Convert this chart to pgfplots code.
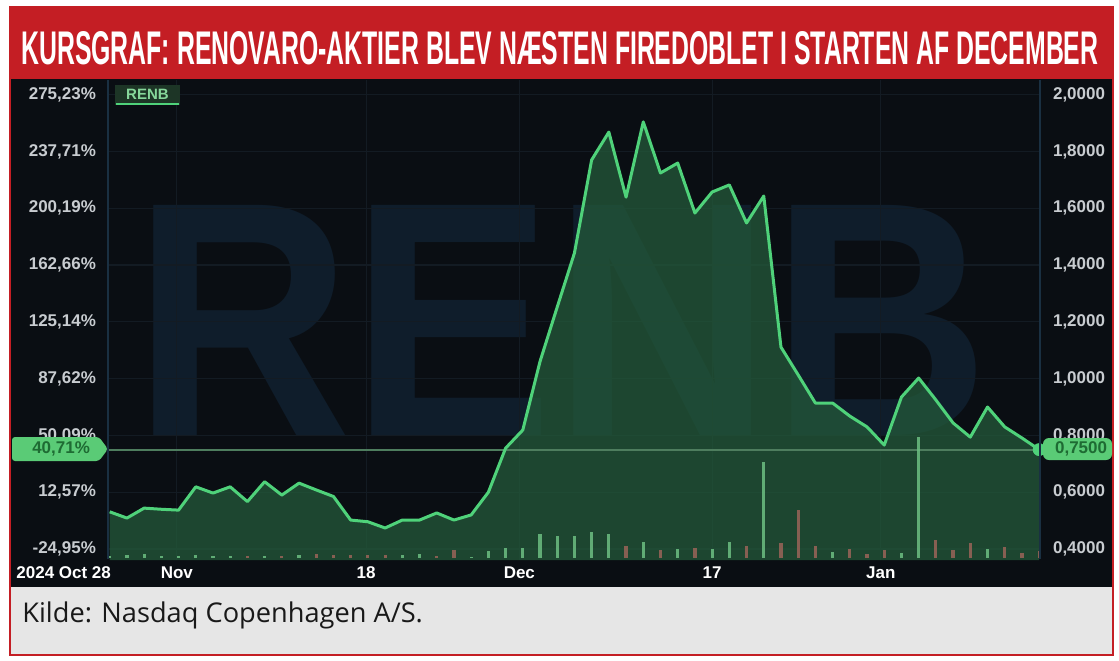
\documentclass[border=0pt]{standalone}
\usepackage{pgfplots}
\pgfplotsset{compat=1.18}
\usepackage{fontspec}
\usepackage{graphicx}
\setmainfont{Liberation Sans}
\newfontfamily\opensans{Open Sans}
\definecolor{bgdark}{HTML}{0A0E13}
\definecolor{titlered}{HTML}{C41E24}
\definecolor{linegreen}{HTML}{4FD27A}
\definecolor{fillgreen}{HTML}{245A3A}
\definecolor{ticktext}{HTML}{C8CCD0}
\definecolor{wm}{HTML}{0F1D2B}
\definecolor{axisblue}{HTML}{1A3042}
\definecolor{gridc}{HTML}{131B23}
\definecolor{volg}{HTML}{6CBF82}
\definecolor{volr}{HTML}{9A6458}
\definecolor{footgray}{HTML}{E6E6E6}
\definecolor{labelgreen}{HTML}{5ACB76}
\definecolor{labeltext}{HTML}{1E6B33}
\definecolor{legbg}{HTML}{1D3526}
\definecolor{legtext}{HTML}{86D69A}
\definecolor{hline}{HTML}{4E7D5E}

\pgfplotstableread{
idx price
0 0.531
1 0.509
2 0.544
3 0.540
4 0.537
5 0.619
6 0.597
7 0.619
8 0.567
9 0.637
10 0.590
11 0.632
12 0.608
13 0.585
14 0.502
15 0.496
16 0.474
17 0.502
18 0.502
19 0.527
20 0.502
21 0.520
22 0.600
23 0.755
24 0.819
25 1.060
26 1.252
27 1.442
28 1.770
29 1.868
30 1.639
31 1.904
32 1.724
33 1.759
34 1.583
35 1.657
36 1.682
37 1.548
38 1.643
39 1.111
40 1.013
41 0.914
42 0.914
43 0.868
44 0.830
45 0.766
46 0.935
47 1.002
48 0.925
49 0.844
50 0.794
51 0.900
52 0.830
53 0.791
54 0.750
}\pricetable

\pgfplotstableread{
idx vol
0 2
1 3
2 4
3 2
4 2
5 3
6 2
7 2
9 2
11 3
17 3
18 4
21 1
22 7
23 10
24 10
25 24
26 22
27 22
28 26
29 24
31 16
33 9
35 9
36 16
38 96
42 6
46 5
47 121
51 9
}\volup

\pgfplotstableread{
idx vol
8 2
10 2
12 4
13 3
14 3
15 3
16 3
19 2
20 8
30 12
32 8
34 10
37 12
39 15
40 48
41 12
43 9
44 4
45 8
48 18
49 8
50 15
52 11
53 5
54 7
}\voldown

\begin{document}
\begin{tikzpicture}
\begin{scope}[x=0.5pt,y=-0.5pt]
\fill[white] (0,0) rectangle (1119,660);
\fill[titlered] (9,6) rectangle (1114,79);
\fill[bgdark] (9,79) rectangle (1114,587);
\fill[footgray] (9,587) rectangle (1114,656);
\draw[titlered, line width=1pt] (10,7) rectangle (1113,655);
\node[anchor=base west, inner sep=0, text=white] at (21,64)
  {\resizebox{538.5pt}{16.5pt}{\bfseries KURSGRAF: RENOVARO-AKTIER BLEV NÆSTEN FIREDOBLET I STARTEN AF DECEMBER}};
\node[anchor=base west, inner sep=0, text=black!90] at (22,622)
  {\opensans\fontsize{13.6}{16}\selectfont Kilde: Nasdaq Copenhagen A/S.};
\node[inner sep=0, text=wm] at (562,320) {\resizebox{428pt}{115pt}{\bfseries RENB}};
\end{scope}

\begin{axis}[
  at={(54pt,-280pt)}, anchor=south west,
  width=466pt, height=240pt, scale only axis,
  xmin=-0.1, xmax=54.05, ymin=0.3613, ymax=2.0514,
  axis line style={draw=none},
  major tick length=0pt,
  xtick={3.9,14.9,23.8,35.0,44.8},
  xticklabels={Nov,18,Dec,17,Jan},
  ytick={0.4,0.6,0.8,1.0,1.2,1.4,1.6,1.8,2.0},
  yticklabels={{-24,95\%},{12,57\%},{50,09\%},{87,62\%},{125,14\%},{162,66\%},{200,19\%},{237,71\%},{275,23\%}},
  /pgf/number format/assume math mode=true,
  ticklabel style={font=\fontsize{8.5}{10}\selectfont\bfseries},
  yticklabel style={text=ticktext, xshift=-2.5pt},
  xticklabel style={text=white},
  grid=major, major grid style={gridc, line width=0.6pt},
]
\addplot[draw=none, fill=fillgreen, fill opacity=0.75] table[x=idx,y=price]{\pricetable} \closedcycle;
\addplot[hline, line width=1pt] coordinates {(-0.1,0.75) (54.05,0.75)};
\addplot[linegreen, line width=1.5pt, line join=round] table[x=idx,y=price]{\pricetable};
\end{axis}

\begin{axis}[
  at={(54pt,-279pt)}, anchor=south west,
  width=466pt, height=235pt, scale only axis,
  xmin=-0.1, xmax=54.05, ymin=0, ymax=470,
  hide axis,
]
\addplot[ycomb, volg, line width=1.6pt, opacity=0.85] table[x=idx,y=vol]{\volup};
\addplot[ycomb, volr, line width=1.6pt, opacity=0.85] table[x=idx,y=vol]{\voldown};
\end{axis}

\begin{axis}[
  at={(54pt,-280pt)}, anchor=south west,
  width=466pt, height=240pt, scale only axis,
  xmin=-0.1, xmax=54.05, ymin=0.3613, ymax=2.0514,
  axis line style={draw=none}, clip=false,
  major tick length=0pt,
  xtick=\empty,
  yticklabel pos=right,
  ytick={0.4,0.6,0.8,1.0,1.2,1.4,1.6,1.8,2.0},
  yticklabels={{0,4000},{0,6000},{0,8000},{1,0000},{1,2000},{1,4000},{1,6000},{1,8000},{2,0000}},
  /pgf/number format/assume math mode=true,
  ticklabel style={font=\fontsize{8.5}{10}\selectfont\bfseries},
  yticklabel style={text=ticktext, xshift=3pt},
]
\addplot[only marks, mark=*, mark size=3pt, color=linegreen] coordinates {(54,0.75)};
\end{axis}

\begin{scope}[x=0.5pt,y=-0.5pt]
\draw[axisblue, line width=1pt] (108,80) -- (108,559);
\draw[axisblue, line width=1pt] (1040,80) -- (1040,559);
\fill[legbg] (115,85) rectangle (180,105);
\node[text=legtext, font=\fontsize{7.5}{9}\selectfont\bfseries] at (147.5,94) {RENB};
\draw[linegreen, line width=1pt] (116,104) -- (179,104);
\fill[labelgreen, rounded corners=1.5pt] (12,437) -- (99,437) -- (108,449) -- (99,461) -- (12,461) -- cycle;
\node[text=labeltext, font=\fontsize{8.5}{10}\selectfont\bfseries, anchor=east] at (97,449) {40,71\%};
\fill[labelgreen, rounded corners=3pt] (1043,438) rectangle (1112,460);
\node[text=labeltext, font=\fontsize{8.5}{10}\selectfont\bfseries, anchor=west] at (1048,449) {0,7500};
\node[anchor=base west, inner sep=0, text=white, font=\fontsize{8.5}{10}\selectfont\bfseries] at (16,578) {2024 Oct 28};
\end{scope}
\pgfresetboundingbox
\useasboundingbox (0,0) rectangle (559.5pt,-330pt);
\end{tikzpicture}
\end{document}
